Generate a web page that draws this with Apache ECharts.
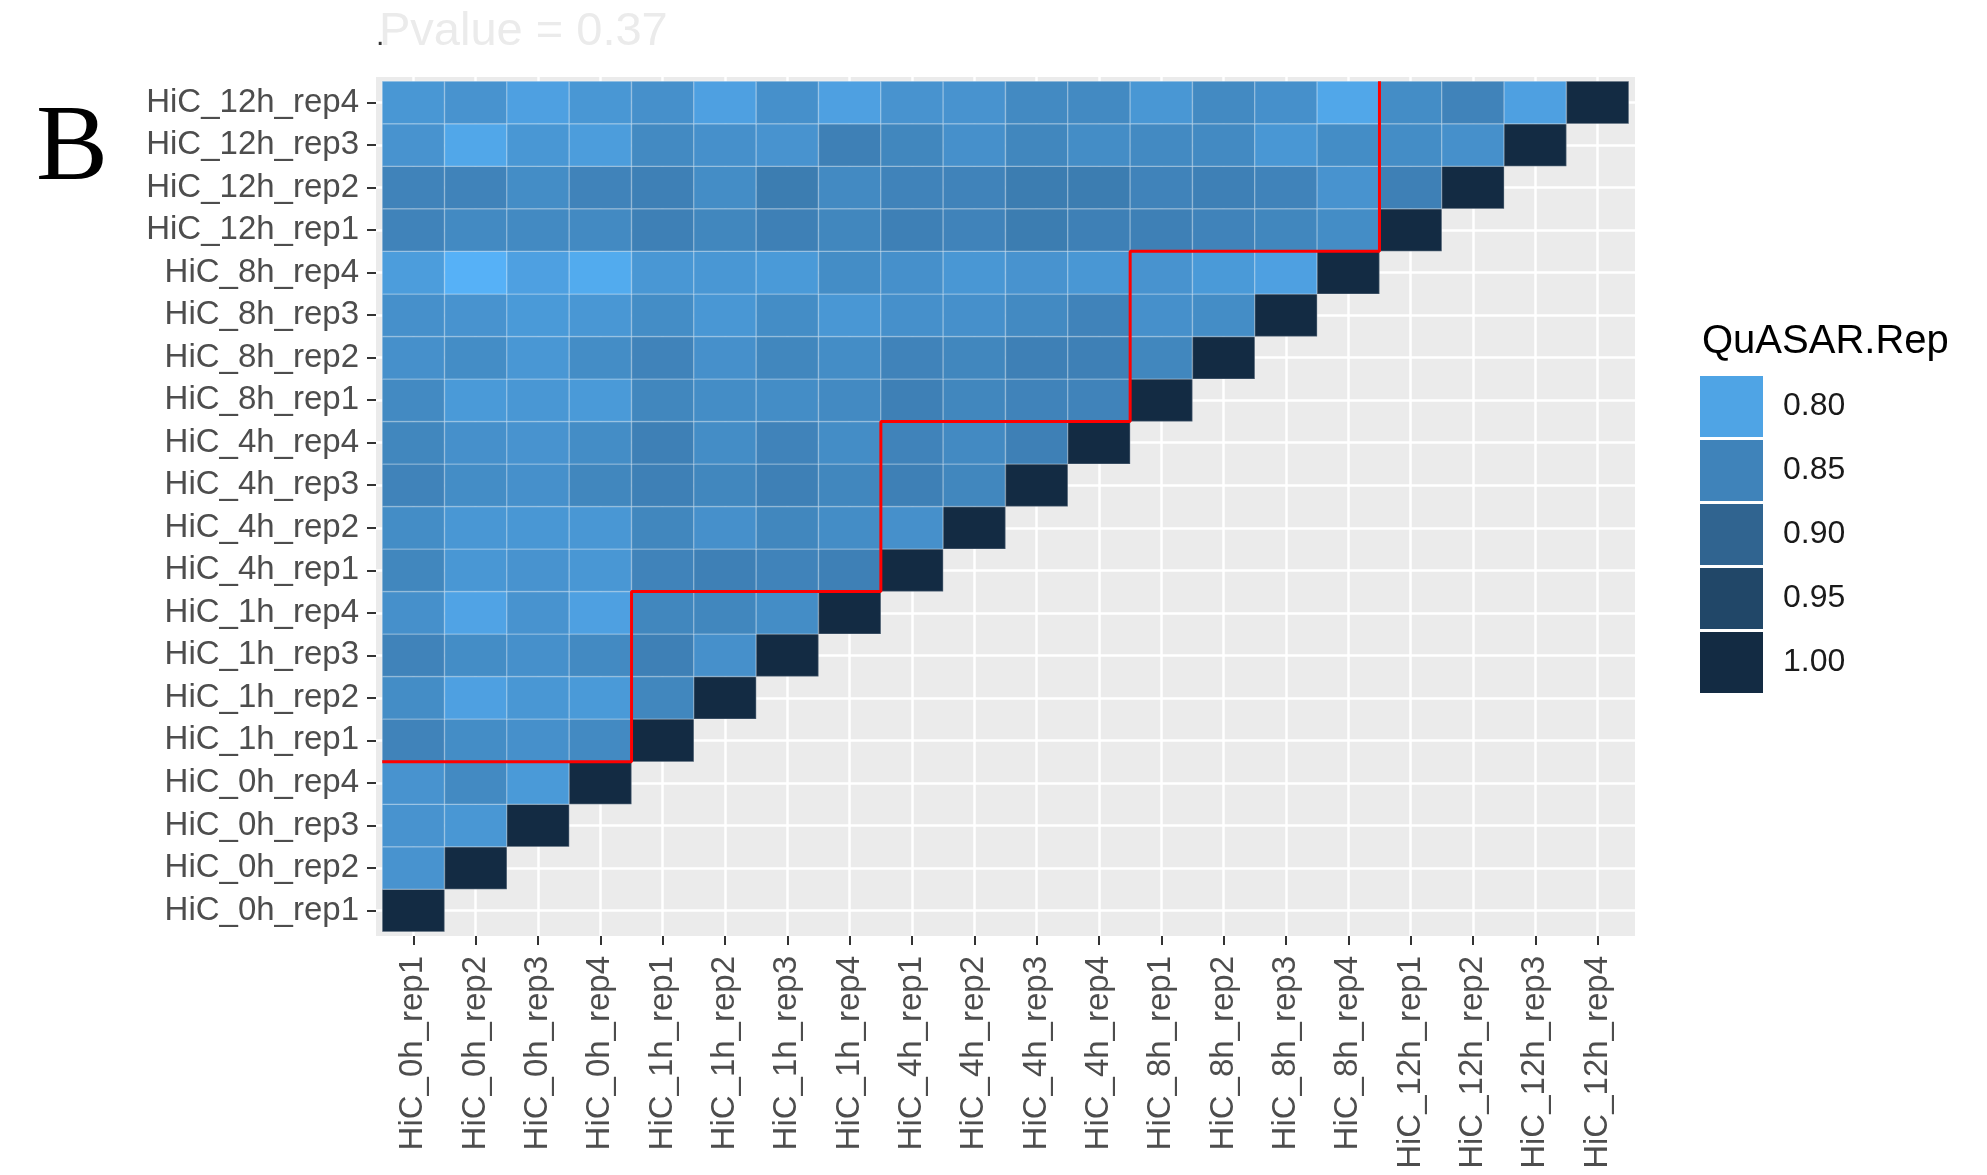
<!DOCTYPE html>
<html>
<head>
<meta charset="utf-8">
<title>QuASAR.Rep heatmap</title>
<script src="https://cdn.jsdelivr.net/npm/echarts@6/dist/echarts.min.js"></script>
<style>
  html, body { margin: 0; padding: 0; background: #fff; }
  #chart { width: 1987px; height: 1175px; }
</style>
</head>
<body>
<div id="chart"></div>
<script>
// sample labels (same order on both axes, bottom-to-top / left-to-right)
const samples = [
  'HiC_0h_rep1', 'HiC_0h_rep2', 'HiC_0h_rep3', 'HiC_0h_rep4',
  'HiC_1h_rep1', 'HiC_1h_rep2', 'HiC_1h_rep3', 'HiC_1h_rep4',
  'HiC_4h_rep1', 'HiC_4h_rep2', 'HiC_4h_rep3', 'HiC_4h_rep4',
  'HiC_8h_rep1', 'HiC_8h_rep2', 'HiC_8h_rep3', 'HiC_8h_rep4',
  'HiC_12h_rep1', 'HiC_12h_rep2', 'HiC_12h_rep3', 'HiC_12h_rep4'
];
const repsPerTime = 4;

// QuASAR reproducibility, one row per y sample, values for x = 1..row
const quasarRows = [
  [1],
  [0.825, 1],
  [0.825, 0.82, 1],
  [0.825, 0.84, 0.815, 1],
  [0.85, 0.835, 0.83, 0.84, 1],
  [0.835, 0.805, 0.82, 0.815, 0.845, 1],
  [0.85, 0.835, 0.83, 0.84, 0.855, 0.83, 1],
  [0.83, 0.80, 0.825, 0.805, 0.845, 0.845, 0.835, 1],
  [0.845, 0.82, 0.825, 0.82, 0.85, 0.855, 0.85, 0.855, 1],
  [0.835, 0.82, 0.82, 0.82, 0.845, 0.83, 0.845, 0.835, 0.83, 1],
  [0.85, 0.835, 0.83, 0.845, 0.855, 0.845, 0.855, 0.845, 0.855, 0.845, 1],
  [0.845, 0.83, 0.825, 0.835, 0.855, 0.835, 0.85, 0.835, 0.85, 0.84, 0.855, 1],
  [0.84, 0.815, 0.82, 0.815, 0.845, 0.835, 0.835, 0.84, 0.855, 0.845, 0.85, 0.85, 1],
  [0.83, 0.835, 0.82, 0.835, 0.85, 0.83, 0.845, 0.835, 0.85, 0.845, 0.855, 0.855, 0.845, 1],
  [0.83, 0.825, 0.815, 0.82, 0.835, 0.82, 0.835, 0.82, 0.83, 0.83, 0.84, 0.85, 0.83, 0.835, 1],
  [0.81, 0.78, 0.805, 0.79, 0.82, 0.82, 0.815, 0.835, 0.83, 0.82, 0.825, 0.82, 0.825, 0.815, 0.805, 1],
  [0.85, 0.84, 0.84, 0.84, 0.855, 0.845, 0.855, 0.845, 0.855, 0.85, 0.86, 0.855, 0.855, 0.85, 0.845, 0.835, 1],
  [0.85, 0.85, 0.835, 0.85, 0.855, 0.835, 0.86, 0.84, 0.85, 0.85, 0.86, 0.86, 0.85, 0.855, 0.85, 0.825, 0.855, 1],
  [0.825, 0.795, 0.82, 0.81, 0.84, 0.83, 0.825, 0.855, 0.845, 0.83, 0.845, 0.835, 0.84, 0.84, 0.82, 0.835, 0.835, 0.83, 1],
  [0.82, 0.825, 0.805, 0.82, 0.83, 0.805, 0.83, 0.805, 0.825, 0.825, 0.84, 0.84, 0.82, 0.84, 0.83, 0.795, 0.835, 0.85, 0.805, 1]
];

const legendBreaks = [0.80, 0.85, 0.90, 0.95, 1.00];
const pvalueText = 'Pvalue = 0.37';

// ---- colour scale like ggplot's gradient (interpolated in Lab) ----
const lowColor = '#56B1F7';
const highColor = '#132B43';

function hexToLab(hex) {
  const n = parseInt(hex.slice(1), 16);
  const c = [(n >> 16) & 255, (n >> 8) & 255, n & 255].map(v => {
    v /= 255;
    return v <= 0.04045 ? v / 12.92 : Math.pow((v + 0.055) / 1.055, 2.4);
  });
  const X = (c[0] * 0.4124 + c[1] * 0.3576 + c[2] * 0.1805) / 0.95047;
  const Y = c[0] * 0.2126 + c[1] * 0.7152 + c[2] * 0.0722;
  const Z = (c[0] * 0.0193 + c[1] * 0.1192 + c[2] * 0.9505) / 1.08883;
  const f = t => t > 0.008856 ? Math.cbrt(t) : 7.787 * t + 16 / 116;
  return [116 * f(Y) - 16, 500 * (f(X) - f(Y)), 200 * (f(Y) - f(Z))];
}
function labToHex(lab) {
  const fy = (lab[0] + 16) / 116, fx = fy + lab[1] / 500, fz = fy - lab[2] / 200;
  const g = t => t * t * t > 0.008856 ? t * t * t : (t - 16 / 116) / 7.787;
  const X = g(fx) * 0.95047, Y = g(fy), Z = g(fz) * 1.08883;
  const lin = [
    X * 3.2406 - Y * 1.5372 - Z * 0.4986,
    -X * 0.9689 + Y * 1.8758 + Z * 0.0415,
    X * 0.0557 - Y * 0.2040 + Z * 1.0570
  ];
  return '#' + lin.map(v => {
    v = v <= 0.0031308 ? 12.92 * v : 1.055 * Math.pow(v, 1 / 2.4) - 0.055;
    v = Math.round(Math.min(1, Math.max(0, v)) * 255);
    return v.toString(16).padStart(2, '0');
  }).join('');
}
const labLow = hexToLab(lowColor), labHigh = hexToLab(highColor);
function rampColor(t) {
  return labToHex(labLow.map((v, i) => v + (labHigh[i] - v) * t));
}

// flatten the triangle to [x, y, value]
const cells = [];
quasarRows.forEach((row, j) => {
  row.forEach((v, i) => cells.push([i + 1, j + 1, v]));
});
const allVals = cells.map(c => c[2]);
const vMin = Math.min(...allVals);
const vMax = Math.max(...allVals);
const rampStops = [];
for (let k = 0; k <= 20; k++) rampStops.push(rampColor(k / 20));
const scaleT = v => (v - vMin) / (vMax - vMin);

// block boundary (time points) drawn in red
const nTimes = samples.length / repsPerTime;
const boundary = [[0.5, repsPerTime + 0.5]];
for (let k = 1; k < nTimes; k++) {
  const b = k * repsPerTime + 0.5;
  boundary.push([b, b]);
  boundary.push([b, (k + 1) * repsPerTime + 0.5]);
}

const positions = samples.map((s, i) => i + 1);
const font = '"Liberation Sans", Arial, Helvetica, sans-serif';

const chart = echarts.init(document.getElementById('chart'));

chart.setOption({
  backgroundColor: '#ffffff',
  animation: false,
  title: [
    {
      text: pvalueText,
      left: 374,
      top: 4,
      textStyle: { fontFamily: font, fontSize: 47, fontWeight: 'normal', color: '#ebebeb' }
    },
    {
      text: 'QuASAR.Rep',
      left: 1697,
      top: 317,
      textStyle: { fontFamily: font, fontSize: 40, fontWeight: 'normal', color: '#000000' }
    }
  ],
  graphic: [
    {
      type: 'text',
      left: 36,
      top: 97,
      style: { text: 'B', font: '108px "Liberation Serif", "Times New Roman", serif', fill: '#000' }
    },
    {
      type: 'text',
      left: 376,
      top: 22,
      style: { text: '.', font: '30px ' + font, fill: '#333' }
    }
  ],
  grid: {
    left: 376,
    top: 77,
    width: 1259,
    height: 859,
    show: true,
    backgroundColor: '#ebebeb',
    borderWidth: 0
  },
  xAxis: {
    type: 'value',
    min: 0.4,
    max: 20.6,
    axisLine: { show: false },
    axisTick: { show: true, length: 9, lineStyle: { color: '#333333', width: 2 }, customValues: positions },
    axisLabel: {
      customValues: positions,
      rotate: 90,
      margin: 20,
      fontFamily: font,
      fontSize: 33,
      color: '#4d4d4d',
      formatter: v => samples[Math.round(v) - 1]
    },
    splitLine: { show: true, lineStyle: { color: '#ffffff', width: 2.5 } }
  },
  yAxis: {
    type: 'value',
    min: 0.4,
    max: 20.6,
    axisLine: { show: false },
    axisTick: { show: true, length: 9, lineStyle: { color: '#333333', width: 2 }, customValues: positions },
    axisLabel: {
      customValues: positions,
      margin: 17,
      fontFamily: font,
      fontSize: 33,
      color: '#4d4d4d',
      formatter: v => samples[Math.round(v) - 1]
    },
    splitLine: { show: true, lineStyle: { color: '#ffffff', width: 2.5 } }
  },
  visualMap: [
    {
      type: 'continuous',
      show: false,
      seriesIndex: 0,
      dimension: 2,
      min: vMin,
      max: vMax,
      inRange: { color: rampStops }
    },
    {
      type: 'piecewise',
      seriesIndex: [],
      orient: 'vertical',
      inverse: true,
      align: 'left',
      left: 1685,
      top: 361,
      itemWidth: 63,
      itemHeight: 61,
      itemGap: 3,
      textGap: 20,
      itemSymbol: 'rect',
      selectedMode: false,
      textStyle: { fontFamily: font, fontSize: 32, color: '#1a1a1a' },
      pieces: legendBreaks.map(b => ({
        value: b,
        label: b.toFixed(2),
        color: rampColor(scaleT(b))
      }))
    }
  ],
  series: [
    {
      type: 'custom',
      data: cells,
      encode: { x: 0, y: 1 },
      renderItem: function (params, api) {
        const x = api.value(0), y = api.value(1);
        const p0 = api.coord([x - 0.5, y + 0.5]);
        const p1 = api.coord([x + 0.5, y - 0.5]);
        return {
          type: 'rect',
          shape: { x: p0[0], y: p0[1], width: p1[0] - p0[0], height: p1[1] - p0[1] },
          style: { fill: api.visual('color'), stroke: 'rgba(255,255,255,0.22)', lineWidth: 1.5 }
        };
      },
      z: 2
    },
    {
      type: 'line',
      data: boundary,
      symbol: 'none',
      silent: true,
      lineStyle: { color: '#ff0000', width: 3 },
      z: 5
    }
  ]
});
</script>
</body>
</html>
